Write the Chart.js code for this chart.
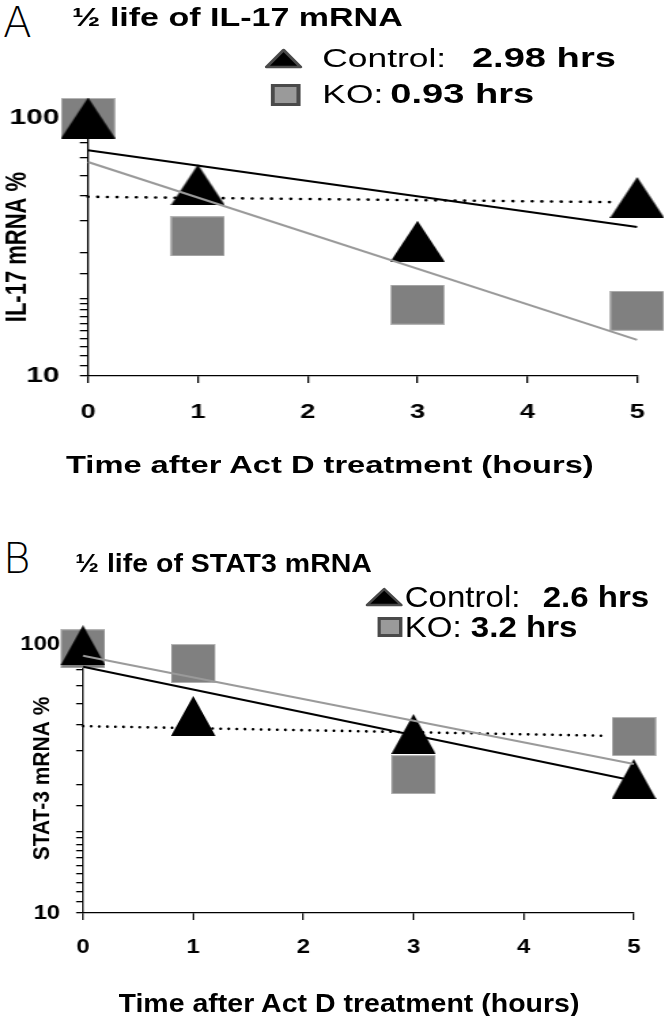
<!DOCTYPE html>
<html>
<head>
<meta charset="utf-8">
<script src="https://cdn.jsdelivr.net/npm/chart.js@4.4.1/dist/chart.umd.min.js"></script>
<style>
  html, body { margin: 0; padding: 0; background: #fff; }
  body { width: 668px; height: 1016px; position: relative; overflow: hidden;
         font-family: 'Liberation Sans', Arial, sans-serif; color: #000; }
  .panel { position: absolute; left: 0; transform-origin: 0 0; }
  .panel canvas { position: absolute; left: 0; top: 0; }
  .txt { position: absolute; white-space: nowrap; line-height: 1; }
  .b { font-weight: bold; }
  .letter { position: absolute; left: 3px; font-size: 42px; line-height: 1;
            font-family: 'DejaVu Sans', sans-serif; font-weight: 200; }
  .panel svg { position: absolute; overflow: visible; }
</style>
</head>
<body>

<div class="letter" style="top:2px;">A</div>
<div class="panel" id="panelA" style="top:0; width:491px; height:500px; transform:scaleX(1.36);">
  <canvas id="chartA" width="491" height="500" style="width:491px;height:500px"></canvas>
  <div class="txt b" style="left:53px; top:5px; font-size:25px;">½ life of IL-17 mRNA</div>
  <svg style="left:195px; top:49px;" width="27" height="19"><polygon points="13.5,1 26,18 1,18" fill="#000" stroke="#4a4a4a" stroke-width="2.5" stroke-linejoin="round"/></svg>
  <div class="txt" style="left:237px; top:45px; font-size:26px;">Control:</div>
  <div class="txt b" style="left:347px; top:44px; font-size:28px;">2.98 hrs</div>
  <svg style="left:199px; top:84px;" width="22" height="22"><rect x="1.5" y="1.5" width="19" height="19" fill="#9a9a9a" stroke="#4a4a4a" stroke-width="3"/></svg>
  <div class="txt" style="left:237px; top:81px; font-size:26px;">KO:</div>
  <div class="txt b" style="left:287px; top:80px; font-size:28px;">0.93 hrs</div>
  <div class="txt b" style="left:48.5px; top:453px; font-size:24px;">Time after Act D treatment (hours)</div>
</div>

<div class="letter" style="top:538px;">B</div>
<div class="panel" id="panelB" style="top:508px; width:586px; height:508px; transform:scaleX(1.14);">
  <canvas id="chartB" width="586" height="508" style="width:586px;height:508px"></canvas>
  <div class="txt b" style="left:66px; top:43px; font-size:25px;">½ life of STAT3 mRNA</div>
  <svg style="left:321px; top:80px;" width="32" height="18"><polygon points="16,1 31,17 1,17" fill="#000" stroke="#4a4a4a" stroke-width="2.5" stroke-linejoin="round"/></svg>
  <div class="txt" style="left:355px; top:75px; font-size:29px;">Control:</div>
  <div class="txt b" style="left:476px; top:75px; font-size:29px;">2.6 hrs</div>
  <svg style="left:331px; top:109px;" width="22" height="20"><rect x="1.5" y="1.5" width="19" height="17" fill="#9a9a9a" stroke="#4a4a4a" stroke-width="3"/></svg>
  <div class="txt" style="left:355px; top:105px; font-size:29px;">KO:</div>
  <div class="txt b" style="left:413px; top:105px; font-size:29px;">3.2 hrs</div>
  <div class="txt b" style="left:104px; top:483px; font-size:25px;">Time after Act D treatment (hours)</div>
</div>

<script>
// --- data ---
const hours = [0, 1, 3, 5];
const xTicks = [0, 1, 2, 3, 4, 5];
const yTickLabels = [10, 100];
const fitHours = [0, 5];

// A: IL-17 mRNA %
const controlA = [100, 55, 33.3, 49.2];
const koA = [100, 34.8, 18.9, 17.9];
const controlFitA = [75, 37.8];
const koFitA = [67.5, 13.8];
const halfHoursA = [0, 4.77];
const halfLineA = [49.5, 47.2];

// B: STAT-3 mRNA %
const controlB = [99, 54, 46.3, 31.5];
const koB = [96, 84.6, 32.7, 45.3];
const controlFitB = [82.3, 31.0];
const koFitB = [90.5, 35.8];
const halfHoursB = [0, 4.73];
const halfLineB = [49.5, 45.6];

const FONT = "'Liberation Sans', Arial, sans-serif";

function toPoints(xs, ys) {
  return xs.map((x, i) => ({ x: x, y: ys[i] }));
}

// marker images (drawn centred on the point by Chart.js)
function triangleImg(w, h) {
  const c = document.createElement('canvas');
  c.width = w; c.height = h;
  const g = c.getContext('2d');
  g.fillStyle = '#000';
  g.beginPath();
  g.moveTo(w / 2, 0); g.lineTo(w, h); g.lineTo(0, h);
  g.closePath(); g.fill();
  return c;
}
function squareImg(w, h) {
  const c = document.createElement('canvas');
  c.width = w; c.height = h;
  const g = c.getContext('2d');
  g.fillStyle = '#808080';
  g.fillRect(0, 0, w, h);
  g.strokeStyle = '#b4b4b4';
  g.lineWidth = 1;
  g.strokeRect(0.5, 0.5, w - 1, h - 1);
  return c;
}

function makeChart(el, d, geo) {
  const tri = triangleImg(geo.marker, geo.marker + 1);
  const sq = squareImg(geo.marker, geo.marker);
  return new Chart(el, {
    type: 'scatter',
    data: {
      datasets: [
        { data: toPoints(fitHours, d.controlFit), showLine: true, borderColor: '#000', borderWidth: 2,
          pointRadius: 0, clip: false },
        { data: toPoints(fitHours, d.koFit), showLine: true, borderColor: '#9a9a9a', borderWidth: 2,
          pointRadius: 0, clip: false },
        { data: toPoints(d.halfX, d.half), showLine: true, borderColor: '#000', borderWidth: 2.6,
          borderDash: [0.1, 7], borderCapStyle: 'round', pointRadius: 0, clip: false },
        { data: toPoints(hours, d.control), pointStyle: tri, pointRadius: 20, clip: false },
        { data: toPoints(hours, d.ko), pointStyle: sq, pointRadius: 20, clip: false }
      ]
    },
    options: {
      responsive: false,
      animation: false,
      devicePixelRatio: 1,
      layout: { padding: { left: 0, right: geo.padRight, top: geo.padTop, bottom: 0 } },
      plugins: { legend: { display: false }, tooltip: { enabled: false } },
      scales: {
        x: {
          type: 'linear', min: 0, max: 5,
          afterBuildTicks: s => { s.ticks = xTicks.map(v => ({ value: v })); },
          afterFit: s => { s.height = geo.xHeight; },
          ticks: { color: '#000', autoSkip: false, padding: geo.xTickPad,
                   font: { family: FONT, size: geo.xTickSize, weight: 'bold' } },
          grid: { drawOnChartArea: false, tickLength: 7, color: '#000', lineWidth: 1.3 },
          border: { display: true, color: '#000', width: 1.3 }
        },
        y: {
          type: 'logarithmic', min: 10, max: 100,
          afterFit: s => { s.width = geo.yWidth; },
          ticks: { color: '#000', autoSkip: false, padding: geo.yTickPad,
                   font: { family: FONT, size: geo.yTickSize, weight: 'bold' },
                   callback: v => yTickLabels.includes(Math.round(v)) ? String(Math.round(v)) : '' },
          grid: { drawOnChartArea: false, tickLength: 6, color: '#000', lineWidth: 1.3 },
          border: { display: true, color: '#000', width: 1.3 },
          title: { display: true, text: d.yTitle, color: '#000',
                   font: { family: FONT, size: geo.yTitleSize, weight: 'bold' },
                   padding: { top: geo.yTitlePad, bottom: 0 } }
        }
      }
    }
  });
}

document.addEventListener('DOMContentLoaded', function () {
  makeChart(document.getElementById('chartA'), {
    control: controlA, ko: koA, controlFit: controlFitA, koFit: koFitA,
    halfX: halfHoursA, half: halfLineA, yTitle: 'IL-17 mRNA %'
  }, {
    marker: 40, padRight: 22, padTop: 118, xHeight: 124, yWidth: 64.7,
    xTickPad: 17, xTickSize: 20,
    yTickPad: 15, yTickSize: 22, yTitlePad: 0, yTitleSize: 22
  });

  makeChart(document.getElementById('chartB'), {
    control: controlB, ko: koB, controlFit: controlFitB, koFit: koFitB,
    halfX: halfHoursB, half: halfLineB, yTitle: 'STAT-3 mRNA %'
  }, {
    marker: 39, padRight: 30, padTop: 136, xHeight: 103, yWidth: 72.8,
    xTickPad: 15, xTickSize: 21,
    yTickPad: 14, yTickSize: 21, yTitlePad: 25, yTitleSize: 21
  });
});
</script>
</body>
</html>
